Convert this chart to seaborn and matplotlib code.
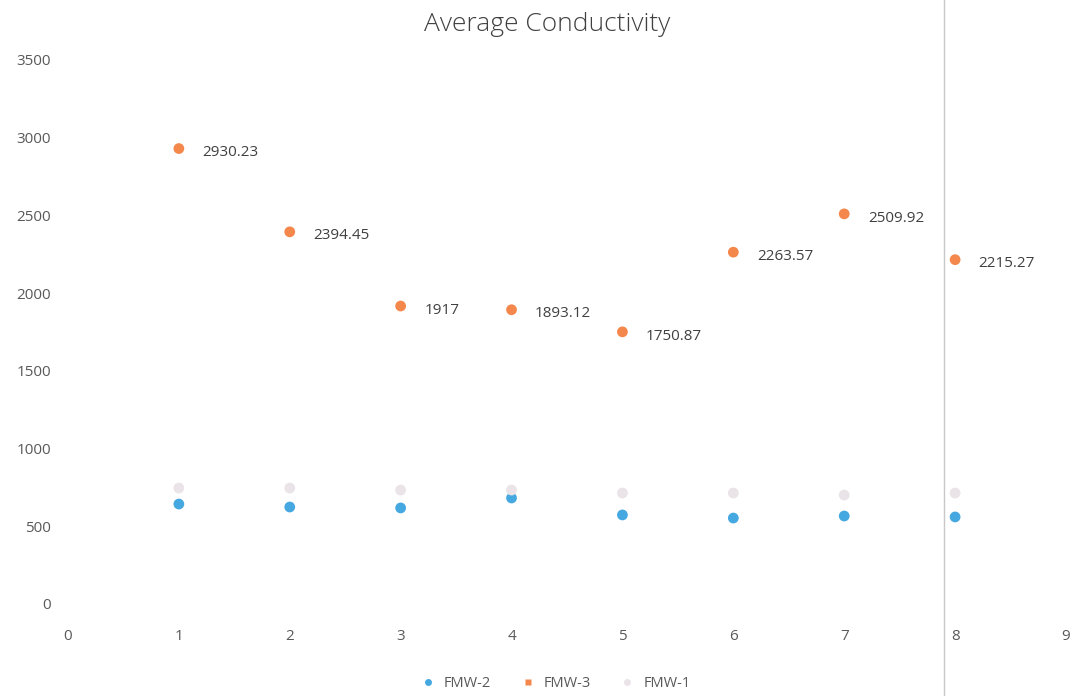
import matplotlib.pyplot as plt
from matplotlib.lines import Line2D
import seaborn as sns
import pandas as pd

#%% data

x_vals = [1, 2, 3, 4, 5, 6, 7, 8]
fmw2 = [643, 624, 618, 682, 573, 553, 566, 560]
fmw3 = [2930.23, 2394.45, 1917, 1893.12, 1750.87, 2263.57, 2509.92, 2215.27]
fmw1 = [746, 746, 733, 733, 714, 714, 701, 714]
fmw3_labels = ["2930.23", "2394.45", "1917", "1893.12", "1750.87", "2263.57", "2509.92", "2215.27"]

series_names = ["FMW-2", "FMW-3", "FMW-1"]
series_colors = ["#45A8E0", "#F4874B", "#EAE3E7"]
legend_markers = ['o', 's', 'o']

df = pd.concat([
    pd.DataFrame({'x': x_vals, 'value': fmw2, 'well': 'FMW-2'}),
    pd.DataFrame({'x': x_vals, 'value': fmw3, 'well': 'FMW-3'}),
    pd.DataFrame({'x': x_vals, 'value': fmw1, 'well': 'FMW-1'}),
])

#%% plotting

sns.set_style("white")
plt.rcParams['font.family'] = ['Open Sans', 'DejaVu Sans']

fig = plt.figure(figsize=(10.72, 6.96), dpi=100)
ax = fig.add_axes([0.0634, 0.1322, 0.931, 0.7816])

sns.scatterplot(data=df, x='x', y='value', hue='well', hue_order=series_names,
                palette=series_colors, s=60, edgecolor='none', ax=ax, legend=False)

for xv, yv, lab in zip(x_vals, fmw3, fmw3_labels):
    ax.annotate(lab, (xv, yv), xytext=(17, -3), textcoords='offset points',
                fontsize=11, color='#404040', va='center', ha='left')

ax.set_xlim(0, 9)
ax.set_ylim(0, 3500)
ax.set_xticks(range(0, 10))
ax.set_yticks(range(0, 3501, 500))
ax.tick_params(axis='x', pad=18, labelsize=11, labelcolor='#595959', length=0)
ax.tick_params(axis='y', pad=12, labelsize=11, labelcolor='#595959', length=0)
ax.set_xlabel('')
ax.set_ylabel('')
for sp in ax.spines.values():
    sp.set_visible(False)

fig.text(0.51, 0.965, 'Average Conductivity', ha='center', va='center',
         fontsize=19, color='#404040', fontweight='light')

handles = [Line2D([], [], marker=m, linestyle='', markersize=5,
                  markerfacecolor=c, markeredgecolor='none')
           for m, c in zip(legend_markers, series_colors)]
fig.legend(handles, series_names, loc='center', bbox_to_anchor=(0.515, 0.018),
           ncol=3, frameon=False, fontsize=10.5, labelcolor='#595959',
           handletextpad=0.1, columnspacing=1.5)

# thin vertical border line from the screenshot
fig.add_artist(Line2D([0.881, 0.881], [0, 1], transform=fig.transFigure,
                      color='#C8C8C8', linewidth=1))

fig.savefig('out.png', dpi=100)
